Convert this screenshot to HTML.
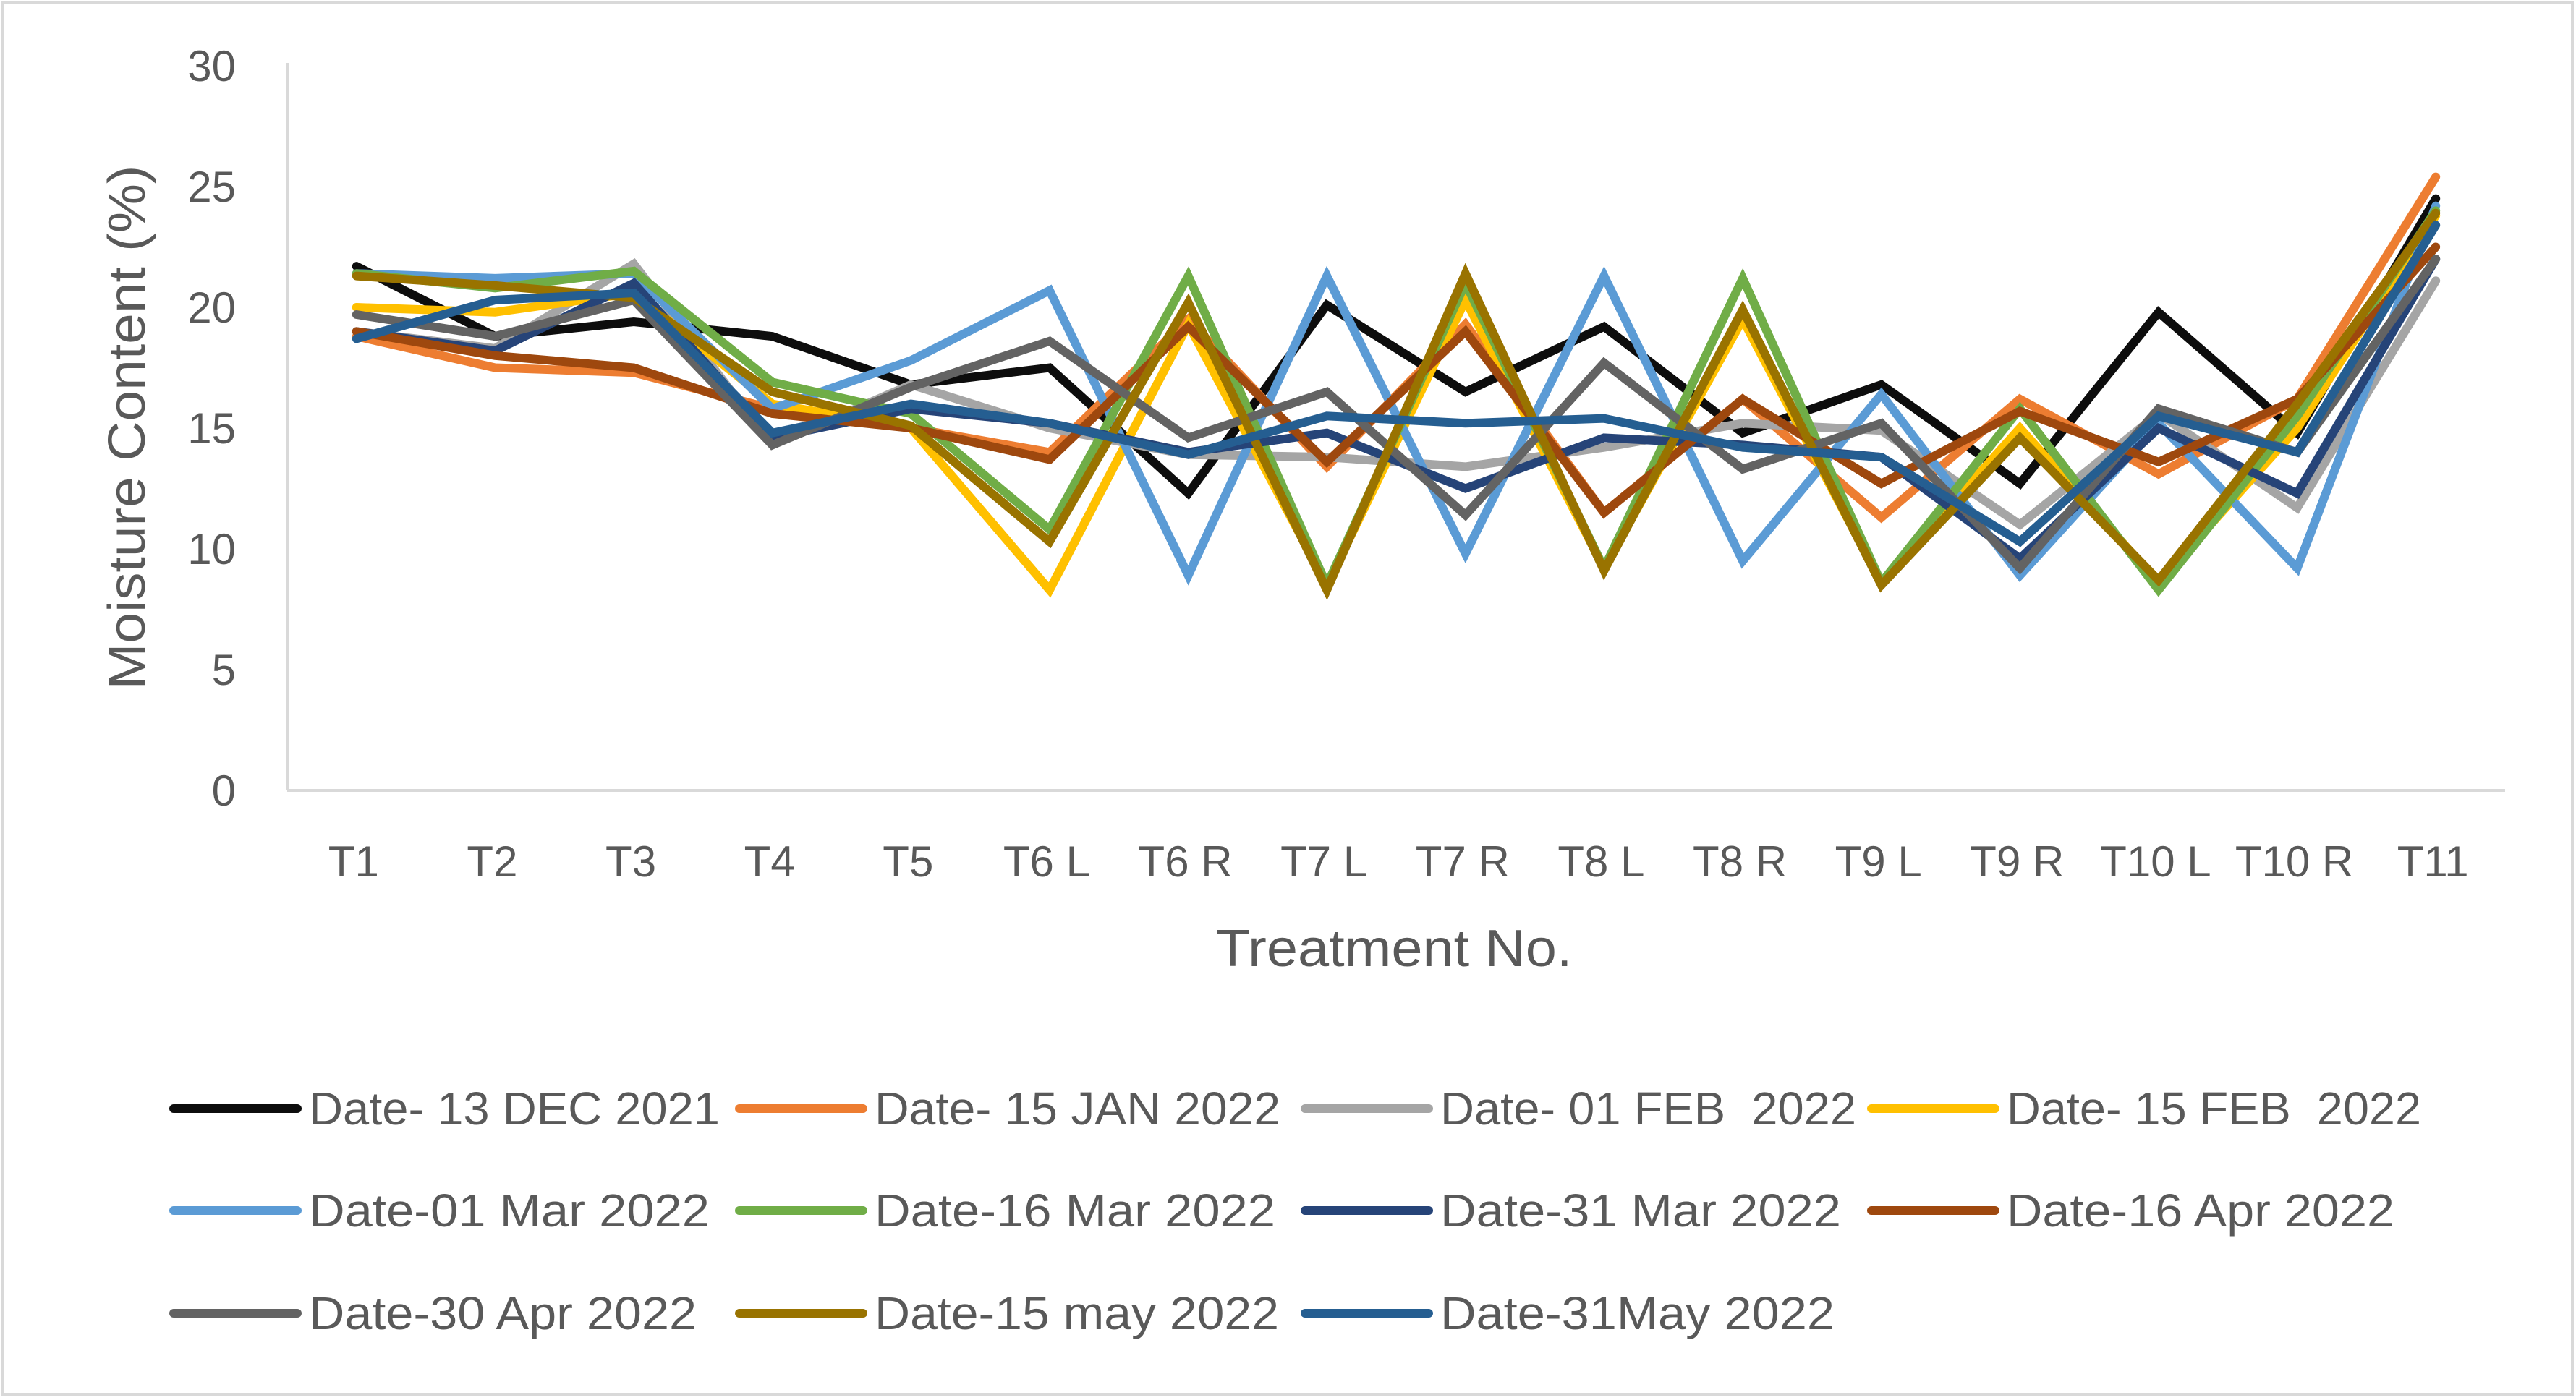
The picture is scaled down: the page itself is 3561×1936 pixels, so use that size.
<!DOCTYPE html>
<html><head><meta charset="utf-8"><style>
html,body{margin:0;padding:0;background:#fff;}
svg{display:block;font-family:"Liberation Sans",sans-serif;}
text{white-space:pre;}
</style></head><body>
<svg id="chart" width="3561" height="1936" viewBox="0 0 3561 1936" xmlns="http://www.w3.org/2000/svg" xml:space="preserve">
<rect x="3" y="3" width="3553" height="1926" fill="#fff" stroke="#d9d9d9" stroke-width="4"/>
<g id="axes"></g>
<g id="series"></g>
<g id="legend"></g>
<text transform="translate(200,591) rotate(-90)" text-anchor="middle" font-size="72" fill="#595959" textLength="725" lengthAdjust="spacingAndGlyphs">Moisture Content (%)</text>
<text x="1927" y="1336" text-anchor="middle" font-size="72" fill="#595959" textLength="493" lengthAdjust="spacingAndGlyphs">Treatment No.</text>
</svg>
<script>
const categories=["T1","T2","T3","T4","T5","T6 L","T6 R","T7 L","T7 R","T8 L","T8 R","T9 L","T9 R","T10 L","T10 R","T11"];
const yTicks=[0,5,10,15,20,25,30];
const seriesNames=["Date- 13 DEC 2021","Date- 15 JAN 2022","Date- 01 FEB  2022","Date- 15 FEB  2022","Date-01 Mar 2022","Date-16 Mar 2022","Date-31 Mar 2022","Date-16 Apr 2022","Date-30 Apr 2022","Date-15 may 2022","Date-31May 2022"];
const seriesColors=["#0d0d0d","#ED7D31","#A5A5A5","#FFC000","#5B9BD5","#70AD47","#264478","#9E480E","#636363","#997300","#255E91"];
const s13Dec=[21.7,18.8,19.4,18.8,16.8,17.5,12.3,20.1,16.5,19.2,14.8,16.8,12.7,19.8,14.8,24.5];
const s15Jan=[18.8,17.5,17.3,15.8,15.0,14.0,19.5,13.4,19.3,11.5,16.2,11.3,16.2,13.1,16.2,25.4];
const s01Feb=[19.0,18.3,21.8,14.3,16.8,15.0,13.9,13.8,13.4,14.2,15.2,14.9,11.0,15.6,11.7,21.1];
const s15Feb=[20.0,19.8,20.6,16.0,15.0,8.3,19.3,8.5,20.3,9.2,19.5,8.6,15.0,8.6,15.0,23.8];
const s01Mar=[21.4,21.2,21.4,15.8,17.8,20.7,8.9,21.3,9.8,21.3,9.5,16.4,8.9,15.2,9.2,24.2];
const s16Mar=[21.4,20.8,21.5,16.9,15.6,10.8,21.3,8.5,21.0,9.2,21.2,8.6,15.8,8.3,15.5,24.0];
const s31Mar=[19.0,18.2,21.0,14.6,15.8,15.2,14.0,14.8,12.5,14.6,14.3,13.8,9.6,15.0,12.3,22.0];
const s16Apr=[19.0,18.0,17.5,15.6,15.0,13.7,19.2,13.6,19.0,11.5,16.2,12.7,15.7,13.6,16.2,22.5];
const s30Apr=[19.7,18.8,20.3,14.3,16.7,18.6,14.6,16.5,11.4,17.7,13.3,15.2,9.2,15.8,14.0,22.0];
const s15May=[21.3,20.9,20.4,16.5,15.1,10.3,20.2,8.3,21.4,9.1,19.9,8.5,14.6,8.7,16.0,23.9];
const s31May=[18.7,20.3,20.6,14.8,16.0,15.2,13.9,15.5,15.2,15.4,14.2,13.8,10.3,15.5,14.0,23.4];
const seriesData=[s13Dec,s15Jan,s01Feb,s15Feb,s01Mar,s16Mar,s31Mar,s16Apr,s30Apr,s15May,s31May];

const NS="http://www.w3.org/2000/svg";
const L=397,R=3463,T=91,B=1093,yMax=30;
const band=(R-L)/categories.length;
function xPos(i){return L+band*(i+0.5);}
function yPos(v){return B-(v/yMax)*(B-T);}
function mk(tag,attrs,parent){const e=document.createElementNS(NS,tag);for(const k in attrs)e.setAttribute(k,attrs[k]);parent.appendChild(e);return e;}
const axes=document.getElementById('axes');
let a=mk('line',{x1:L,y1:T-4,x2:L,y2:B,stroke:'#d9d9d9','stroke-width':4},axes);


a=mk('line',{x1:L,y1:B,x2:R,y2:B,stroke:'#d9d9d9','stroke-width':4},axes);


yTicks.forEach(v=>{
  const t=mk('text',{x:326,y:yPos(v)+21,'text-anchor':'end','font-size':60,fill:'#595959'},axes);
  t.textContent=v;
  
  
});
categories.forEach((c,i)=>{
  const t=mk('text',{x:xPos(i)-4,y:1212,'text-anchor':'middle','font-size':60,fill:'#595959'},axes);
  t.textContent=c;
  
  
});
const sg=document.getElementById('series');
seriesData.forEach((d,si)=>{
  const pts=d.map((v,i)=>xPos(i).toFixed(1)+','+yPos(v).toFixed(1)).join(' ');
  const p=mk('polyline',{points:pts,fill:'none',stroke:seriesColors[si],'stroke-width':12,'stroke-linejoin':'miter','stroke-linecap':'round'},sg);
  
  
});
const lg=document.getElementById('legend');
const colX=[240,1022,1804,2587],rowY=[1533,1674,1816];
const legendTextWidths=[568,561,575,573,554,554,554,536,536,559,545];
seriesNames.forEach((n,i)=>{
  const cx=colX[i%4],cy=rowY[Math.floor(i/4)];
  const g=mk('g',{},lg);
  
  
  mk('line',{x1:cx,y1:cy,x2:cx+171,y2:cy,stroke:seriesColors[i],'stroke-width':12,'stroke-linecap':'round'},g);
  const t=mk('text',{x:cx+187,y:cy+22,'font-size':64,fill:'#595959',textLength:legendTextWidths[i],lengthAdjust:'spacingAndGlyphs'},g);
  t.textContent=n;
});
</script>
</body></html>
